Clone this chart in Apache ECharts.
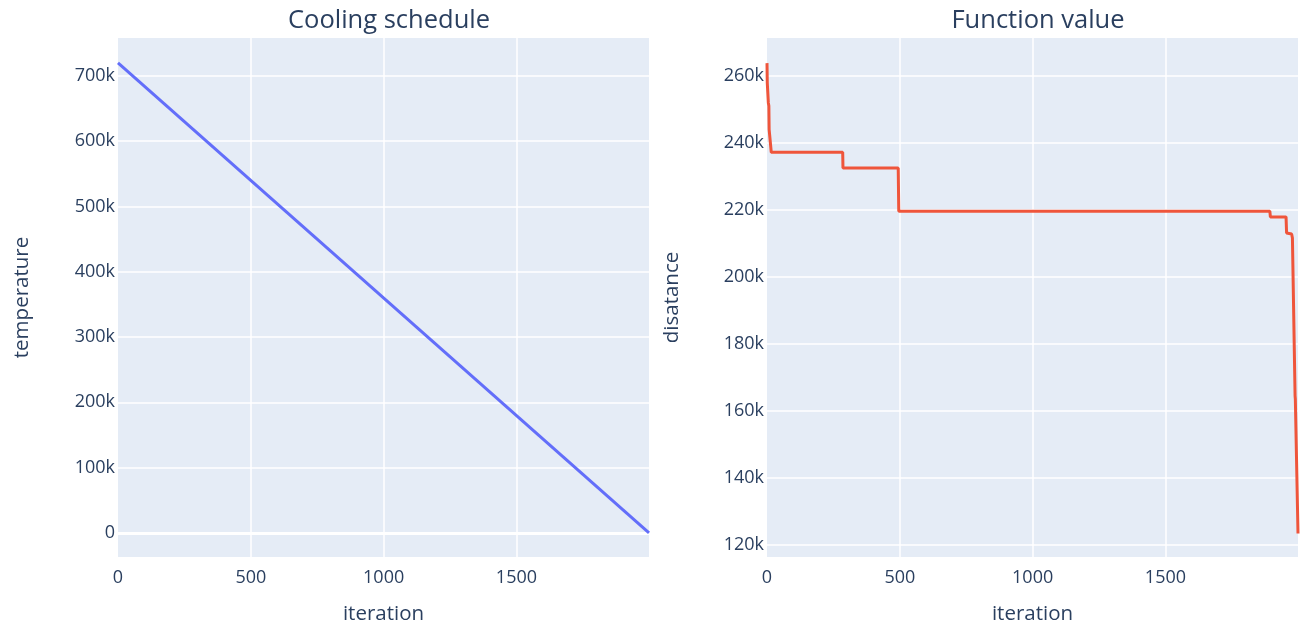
<!DOCTYPE html>
<html>
<head>
<meta charset="utf-8">
<script src="https://cdn.jsdelivr.net/npm/echarts@6/dist/echarts.min.js"></script>
<style>
  html, body { margin: 0; padding: 0; background: #ffffff; }
  #chart { width: 1306px; height: 630px; }
</style>
</head>
<body>
<div id="chart"></div>
<script>
// Linear cooling schedule: temperature against iteration
const coolIter = [0, 1999];
const coolTemp = [720000, 0];

// Best distance found so far, at the iterations where it changes
const fvIter = [0, 1, 5, 7, 8, 14, 16, 285, 286, 494, 496, 1893, 1895, 1954, 1956, 1975, 1978, 1988, 1989, 1999];
const fvDist = [263800, 258000, 252000, 251000, 244000, 243500, 237200, 237200, 232500, 232500, 219600, 219600, 217900, 217900, 213100, 212800, 211600, 164500, 163500, 123400];

const xTickStep = 500;
const tempTickStep = 100000;
const distTickStep = 20000;

const TEXT = '#2a3f5f';
const FONT = 'Open Sans';

function pairs(xs, ys) { return xs.map((x, i) => [x, ys[i]]); }
function kFmt(v) { return v === 0 ? '0' : (v / 1000) + 'k'; }
function plainFmt(v) { return String(v); }

function xAxisFor(gridIndex) {
  return {
    type: 'value', gridIndex,
    min: 0, max: 1999,
    minInterval: xTickStep, maxInterval: xTickStep,
    name: 'iteration', nameLocation: 'middle', nameGap: 47,
    nameTextStyle: { color: TEXT, fontFamily: FONT, fontSize: 20.5 },
    axisLine: { show: false }, axisTick: { show: false },
    axisLabel: { color: TEXT, fontFamily: FONT, fontSize: 18, margin: 12, formatter: plainFmt, showMaxLabel: false, showMinLabel: true },
    splitLine: { show: true, showMinLine: false, showMaxLine: false, lineStyle: { color: '#ffffff', width: 1.5 } }
  };
}

function yAxisFor(gridIndex, name, min, max, step, gap) {
  return {
    type: 'value', gridIndex,
    min, max, minInterval: step, maxInterval: step,
    name, nameLocation: 'middle', nameGap: gap,
    nameTextStyle: { color: TEXT, fontFamily: FONT, fontSize: 20.5 },
    axisLine: { show: false }, axisTick: { show: false },
    axisLabel: { color: TEXT, fontFamily: FONT, fontSize: 18, margin: 3, formatter: kFmt, showMinLabel: false, showMaxLabel: false },
    splitLine: { show: true, showMinLine: false, showMaxLine: false, lineStyle: { color: '#ffffff', width: 1.5 } }
  };
}

const chart = echarts.init(document.getElementById('chart'), null, { renderer: 'canvas' });
chart.setOption({
  animation: false,
  backgroundColor: '#ffffff',
  title: [
    { text: 'Cooling schedule', left: 384, top: 3, textAlign: 'center',
      textStyle: { color: TEXT, fontFamily: FONT, fontSize: 25.5, fontWeight: 'normal' } },
    { text: 'Function value', left: 1033, top: 3, textAlign: 'center',
      textStyle: { color: TEXT, fontFamily: FONT, fontSize: 25.5, fontWeight: 'normal' } }
  ],
  grid: [
    { left: 118, right: 657, top: 38, bottom: 72, show: true, backgroundColor: '#E5ECF6', borderWidth: 0, containLabel: false },
    { left: 767, right: 8, top: 38, bottom: 72, show: true, backgroundColor: '#E5ECF6', borderWidth: 0, containLabel: false }
  ],
  xAxis: [xAxisFor(0), xAxisFor(1)],
  yAxis: [
    yAxisFor(0, 'temperature', -37000, 758000, tempTickStep, 85),
    yAxisFor(1, 'disatance', 116400, 271300, distTickStep, 84)
  ],
  series: [
    {
      type: 'line', xAxisIndex: 0, yAxisIndex: 0,
      data: pairs(coolIter, coolTemp),
      showSymbol: false, symbol: 'none', clip: false,
      lineStyle: { color: '#636EFA', width: 3 },
      markLine: {
        silent: true, symbol: 'none', label: { show: false }, z: 1,
        lineStyle: { color: '#ffffff', width: 3, type: 'solid' },
        data: [{ yAxis: 0 }]
      },
      z: 3
    },
    {
      type: 'line', xAxisIndex: 1, yAxisIndex: 1,
      data: pairs(fvIter, fvDist),
      showSymbol: false, symbol: 'none', clip: false,
      lineStyle: { color: '#EF553B', width: 3 },
      z: 3
    }
  ]
});
</script>
</body>
</html>
